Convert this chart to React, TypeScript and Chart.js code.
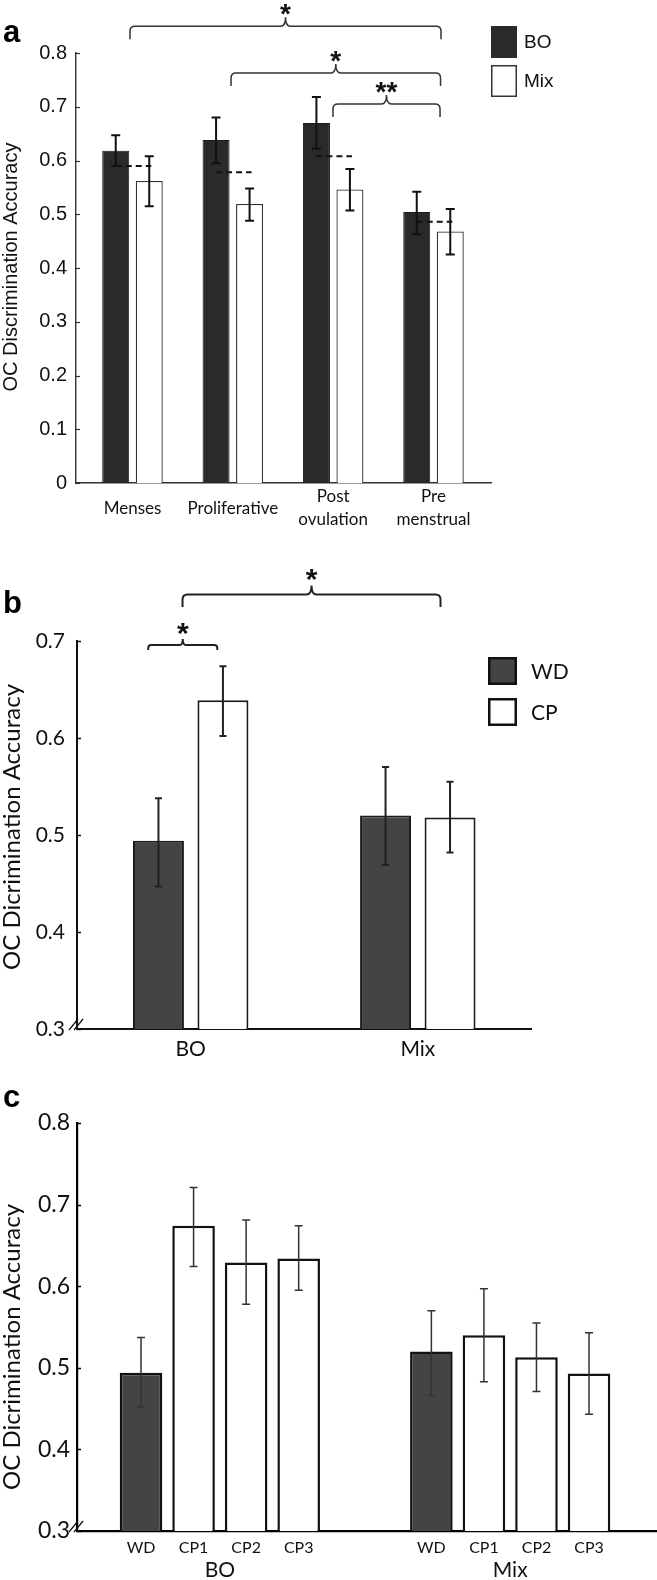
import React, { useEffect, useRef } from "react";
import { Chart, registerables } from "chart.js";

Chart.register(...registerables);

const ARIAL = "'Liberation Sans', Arial, sans-serif";
const HUMAN = "Lato, 'Open Sans', sans-serif";

// ---------------- Panel a data ----------------
const A_CATEGORIES: (string | string[])[] = ["Menses", "Proliferative", ["Post", "ovulation"], ["Pre", "menstrual"]];
const A_X = [0, 1, 2, 3];
const A_SERIES = ["BO", "Mix"];
const A_BO = [0.618, 0.638, 0.67, 0.504];
const A_BO_LOW = [0.59, 0.595, 0.622, 0.463];
const A_BO_HIGH = [0.647, 0.68, 0.718, 0.542];
const A_MIX = [0.562, 0.519, 0.546, 0.468];
const A_MIX_LOW = [0.515, 0.488, 0.507, 0.425];
const A_MIX_HIGH = [0.608, 0.548, 0.584, 0.51];
const A_MEAN = [0.59, 0.578, 0.608, 0.486];
const A_Y_TICKS = [0, 0.1, 0.2, 0.3, 0.4, 0.5, 0.6, 0.7, 0.8];
const A_SIG_LABELS = ["*", "*", "**"];
const A_Y_TITLE = "OC Discrimination Accuracy";

// ---------------- Panel b data ----------------
const B_CATEGORIES = ["BO", "Mix"];
const B_X = [0, 1];
const B_SERIES = ["WD", "CP"];
const B_WD = [0.494, 0.52];
const B_WD_LOW = [0.447, 0.469];
const B_WD_HIGH = [0.538, 0.57];
const B_CP = [0.639, 0.518];
const B_CP_LOW = [0.602, 0.482];
const B_CP_HIGH = [0.674, 0.555];
const B_Y_TICKS = [0.3, 0.4, 0.5, 0.6, 0.7];
const B_SIG_LABELS = ["*", "*"];
const BC_Y_TITLE = "OC Dicrimination Accuracy";

// ---------------- Panel c data ----------------
const C_CATEGORIES = ["BO", "Mix"];
const C_X = [0, 1];
const C_SERIES = ["WD", "CP1", "CP2", "CP3"];
const C_WD = [0.494, 0.52];
const C_WD_LOW = [0.452, 0.466];
const C_WD_HIGH = [0.537, 0.57];
const C_CP1 = [0.674, 0.54];
const C_CP1_LOW = [0.624, 0.483];
const C_CP1_HIGH = [0.721, 0.597];
const C_CP2 = [0.629, 0.513];
const C_CP2_LOW = [0.578, 0.471];
const C_CP2_HIGH = [0.681, 0.555];
const C_CP3 = [0.634, 0.493];
const C_CP3_LOW = [0.595, 0.443];
const C_CP3_HIGH = [0.674, 0.543];
const C_Y_TICKS = [0.3, 0.4, 0.5, 0.6, 0.7, 0.8];

// ---------------- helpers ----------------
const pts = (xs: number[], ys: number[]) => ys.map((y, i) => ({ x: xs[i], y }));

function drawErrorBars(chart: any, color: string, lw: number, cap: number) {
  const ctx = chart.ctx;
  const ys = chart.scales.y;
  ctx.save();
  ctx.strokeStyle = color;
  ctx.lineWidth = lw;
  chart.data.datasets.forEach((ds: any, di: number) => {
    const meta = chart.getDatasetMeta(di);
    meta.data.forEach((el: any, i: number) => {
      const x = el.x;
      const y1 = ys.getPixelForValue(ds.errLow[i]);
      const y2 = ys.getPixelForValue(ds.errHigh[i]);
      ctx.beginPath();
      ctx.moveTo(x, y1);
      ctx.lineTo(x, y2);
      ctx.moveTo(x - cap, y1);
      ctx.lineTo(x + cap, y1);
      ctx.moveTo(x - cap, y2);
      ctx.lineTo(x + cap, y2);
      ctx.stroke();
    });
  });
  ctx.restore();
}

function drawYTicks(chart: any, len: number, color: string, lw: number) {
  const ctx = chart.ctx;
  const ys = chart.scales.y;
  const left = chart.chartArea.left;
  ctx.save();
  ctx.strokeStyle = color;
  ctx.lineWidth = lw;
  ys.ticks.forEach((_t: any, i: number) => {
    const py = Math.round(ys.getPixelForTick(i)) + 0.5;
    ctx.beginPath();
    ctx.moveTo(left, py);
    ctx.lineTo(left + len, py);
    ctx.stroke();
  });
  ctx.restore();
}

function drawYTitle(chart: any, text: string, font: string, x: number, y: number) {
  const ctx = chart.ctx;
  ctx.save();
  ctx.translate(x, y);
  ctx.rotate(-Math.PI / 2);
  ctx.font = font;
  ctx.fillStyle = "#111";
  ctx.textAlign = "center";
  ctx.textBaseline = "middle";
  ctx.fillText(text, 0, 0);
  ctx.restore();
}

function drawBrace(
  chart: any,
  x1v: number,
  x2v: number,
  levelV: number,
  label: string,
  g: { drop: number; cusp: number; r: number; lw: number; color: string; font: string; gap: number }
) {
  const ctx = chart.ctx;
  const x1 = chart.scales.x.getPixelForValue(x1v);
  const x2 = chart.scales.x.getPixelForValue(x2v);
  const y = chart.scales.y.getPixelForValue(levelV);
  const xm = (x1 + x2) / 2;
  const { drop, cusp, r } = g;
  ctx.save();
  ctx.strokeStyle = g.color;
  ctx.lineWidth = g.lw;
  ctx.beginPath();
  ctx.moveTo(x1, y + drop);
  ctx.lineTo(x1, y + r);
  ctx.quadraticCurveTo(x1, y, x1 + r, y);
  ctx.lineTo(xm - r, y);
  ctx.quadraticCurveTo(xm, y, xm, y - cusp);
  ctx.quadraticCurveTo(xm, y, xm + r, y);
  ctx.lineTo(x2 - r, y);
  ctx.quadraticCurveTo(x2, y, x2, y + r);
  ctx.lineTo(x2, y + drop);
  ctx.stroke();
  ctx.font = g.font;
  ctx.fillStyle = "#111";
  ctx.textAlign = "center";
  ctx.textBaseline = "alphabetic";
  const m = ctx.measureText(label);
  const bottom = y - cusp - g.gap;
  ctx.fillText(label, xm, bottom - m.actualBoundingBoxDescent);
  ctx.restore();
}

function drawLegend(
  chart: any,
  items: { label: string; fill: string; stroke: string; lw: number; x: number; y: number }[],
  boxW: number,
  boxH: number,
  textX: number,
  font: string
) {
  const ctx = chart.ctx;
  ctx.save();
  items.forEach((it) => {
    ctx.fillStyle = it.fill;
    ctx.fillRect(it.x, it.y, boxW, boxH);
    ctx.strokeStyle = it.stroke;
    ctx.lineWidth = it.lw;
    ctx.strokeRect(it.x + it.lw / 2, it.y + it.lw / 2, boxW - it.lw, boxH - it.lw);
    ctx.fillStyle = "#111";
    ctx.font = font;
    ctx.textAlign = "left";
    ctx.textBaseline = "middle";
    ctx.fillText(it.label, textX, it.y + boxH / 2 + 1);
  });
  ctx.restore();
}

function drawLetter(chart: any, letter: string, x: number, baseline: number) {
  const ctx = chart.ctx;
  ctx.save();
  ctx.font = `bold 31px ${ARIAL}`;
  ctx.fillStyle = "#000";
  ctx.textAlign = "left";
  ctx.textBaseline = "alphabetic";
  ctx.fillText(letter, x, baseline);
  ctx.restore();
}

function drawBreak(chart: any, color: string) {
  const ctx = chart.ctx;
  const { left, bottom } = chart.chartArea;
  ctx.save();
  ctx.strokeStyle = color;
  ctx.lineWidth = 1.2;
  [0, 5].forEach((k) => {
    ctx.beginPath();
    ctx.moveTo(left - 8 + k, bottom + 1);
    ctx.lineTo(left + 1 + k, bottom - 10);
    ctx.stroke();
  });
  ctx.restore();
}

type PanelCfg = {
  width: number;
  height: number;
  area: { left: number; right: number; top: number; bottom: number };
  xMin: number;
  xMax: number;
  xPositions: number[];
  xLabels: (string | string[])[];
  xFont: any;
  xPadding: number;
  crossAlign: "near" | "center";
  yMin: number;
  yMax: number;
  yTicks: number[];
  yFont: any;
  yPadding: number;
  axisColor: string;
  axisWidth: number;
  datasets: any[];
  extra: (chart: any) => void;
};

function buildConfig(cfg: PanelCfg): any {
  return {
    type: "bar",
    data: { datasets: cfg.datasets },
    options: {
      responsive: false,
      maintainAspectRatio: false,
      animation: false,
      layout: { padding: { left: 0, top: cfg.area.top, right: cfg.width - cfg.area.right, bottom: 0 } },
      plugins: { legend: { display: false }, tooltip: { enabled: false } },
      scales: {
        x: {
          type: "linear",
          min: cfg.xMin,
          max: cfg.xMax,
          offset: false,
          grid: { display: false, drawTicks: false },
          border: { display: true, color: cfg.axisColor, width: cfg.axisWidth },
          afterBuildTicks: (axis: any) => {
            axis.ticks = cfg.xPositions.map((v) => ({ value: v }));
          },
          ticks: {
            autoSkip: false,
            maxRotation: 0,
            minRotation: 0,
            crossAlign: cfg.crossAlign,
            padding: cfg.xPadding,
            font: cfg.xFont,
            color: "#111",
            callback: (_v: any, i: number) => cfg.xLabels[i],
          },
          afterFit: (s: any) => {
            s.height = cfg.height - cfg.area.bottom;
          },
        },
        y: {
          type: "linear",
          min: cfg.yMin,
          max: cfg.yMax,
          grid: { display: false, drawTicks: false },
          border: { display: true, color: cfg.axisColor, width: cfg.axisWidth },
          afterBuildTicks: (axis: any) => {
            axis.ticks = cfg.yTicks.map((v) => ({ value: v }));
          },
          ticks: {
            font: cfg.yFont,
            color: "#111",
            padding: cfg.yPadding,
            callback: (v: any) => String(v),
          },
          title: { display: false },
          afterFit: (s: any) => {
            s.width = cfg.area.left;
          },
        },
      },
    },
    plugins: [{ id: "extras", afterDraw: (chart: any) => cfg.extra(chart) }],
  };
}

// ---------------- panel configs ----------------
const PANEL_A: PanelCfg = {
  width: 657,
  height: 540,
  area: { left: 76, right: 491, top: 53, bottom: 483 },
  xMin: -0.563,
  xMax: 3.573,
  xPositions: A_X,
  xLabels: A_CATEGORIES,
  xFont: { family: HUMAN, size: 17, lineHeight: 1.3 },
  xPadding: 14,
  crossAlign: "center",
  yMin: 0,
  yMax: 0.8,
  yTicks: A_Y_TICKS,
  yFont: { family: ARIAL, size: 20 },
  yPadding: 9,
  axisColor: "#333",
  axisWidth: 1.4,
  datasets: [
    {
      label: A_SERIES[0],
      data: pts(A_X, A_BO),
      errLow: A_BO_LOW,
      errHigh: A_BO_HIGH,
      backgroundColor: "#2a2a2a",
      borderColor: "#1a1a1a",
      borderWidth: 1,
      categoryPercentage: 0.668,
      barPercentage: 0.806,
    },
    {
      label: A_SERIES[1],
      data: pts(A_X, A_MIX),
      errLow: A_MIX_LOW,
      errHigh: A_MIX_HIGH,
      backgroundColor: "#ffffff",
      borderColor: "#333",
      borderWidth: 1.3,
      categoryPercentage: 0.668,
      barPercentage: 0.806,
    },
  ],
  extra: (chart: any) => {
    const ctx = chart.ctx;
    drawYTicks(chart, 4, "#333", 1.2);
    drawYTitle(chart, A_Y_TITLE, `20px ${ARIAL}`, 11, 267);
    // mean dashed lines
    const m0 = chart.getDatasetMeta(0).data;
    const m1 = chart.getDatasetMeta(1).data;
    ctx.save();
    ctx.strokeStyle = "#111";
    ctx.lineWidth = 2;
    ctx.setLineDash([6, 4]);
    A_MEAN.forEach((v, i) => {
      const py = chart.scales.y.getPixelForValue(v);
      ctx.beginPath();
      ctx.moveTo(m0[i].x, py);
      ctx.lineTo(m1[i].x + 2, py);
      ctx.stroke();
    });
    ctx.restore();
    drawErrorBars(chart, "#111", 2, 4.5);
    const g = { drop: 13, cusp: 9, r: 5, lw: 1.5, color: "#333", font: `bold 28px ${ARIAL}`, gap: 2 };
    const braces = [
      { x1: -0.025, x2: 3.075, level: 0.85 },
      { x1: 0.982, x2: 3.07, level: 0.763 },
      { x1: 1.998, x2: 3.065, level: 0.705 },
    ];
    braces.forEach((b, i) => drawBrace(chart, b.x1, b.x2, b.level, A_SIG_LABELS[i], g));
    drawLegend(
      chart,
      [
        { label: A_SERIES[0], fill: "#2a2a2a", stroke: "#2a2a2a", lw: 1, x: 491, y: 26 },
        { label: A_SERIES[1], fill: "#ffffff", stroke: "#333", lw: 1.5, x: 491, y: 65 },
      ],
      26,
      32,
      524,
      `19px ${ARIAL}`
    );
    drawLetter(chart, "a", 3, 42);
  },
};

const PANEL_B: PanelCfg = {
  width: 657,
  height: 520,
  area: { left: 77, right: 531, top: 101, bottom: 489 },
  xMin: -0.5007,
  xMax: 1.4985,
  xPositions: B_X,
  xLabels: B_CATEGORIES,
  xFont: { family: HUMAN, size: 21, lineHeight: 1.2 },
  xPadding: 8,
  crossAlign: "near",
  yMin: 0.3,
  yMax: 0.7,
  yTicks: B_Y_TICKS,
  yFont: { family: HUMAN, size: 21 },
  yPadding: 12,
  axisColor: "#111",
  axisWidth: 2,
  datasets: [
    {
      label: B_SERIES[0],
      data: pts(B_X, B_WD),
      errLow: B_WD_LOW,
      errHigh: B_WD_HIGH,
      backgroundColor: "#444444",
      borderColor: "#1a1a1a",
      borderWidth: 2,
      categoryPercentage: 0.568,
      barPercentage: 0.79,
    },
    {
      label: B_SERIES[1],
      data: pts(B_X, B_CP),
      errLow: B_CP_LOW,
      errHigh: B_CP_HIGH,
      backgroundColor: "#ffffff",
      borderColor: "#1a1a1a",
      borderWidth: 2,
      categoryPercentage: 0.568,
      barPercentage: 0.79,
    },
  ],
  extra: (chart: any) => {
    drawYTicks(chart, 4, "#111", 1.5);
    drawYTitle(chart, BC_Y_TITLE, `24px ${HUMAN}`, 12, 287);
    drawErrorBars(chart, "#222", 2, 3.5);
    const gBig = { drop: 12.5, cusp: 9, r: 5, lw: 2, color: "#222", font: `bold 30px ${ARIAL}`, gap: 4 };
    const gSmall = { drop: 5, cusp: 6, r: 3, lw: 2, color: "#222", font: `bold 30px ${ARIAL}`, gap: 4 };
    drawBrace(chart, -0.036, 1.1, 0.748, B_SIG_LABELS[0], gBig);
    drawBrace(chart, -0.187, 0.117, 0.696, B_SIG_LABELS[1], gSmall);
    drawLegend(
      chart,
      [
        { label: B_SERIES[0], fill: "#444444", stroke: "#111", lw: 2.5, x: 488, y: 117 },
        { label: B_SERIES[1], fill: "#ffffff", stroke: "#111", lw: 2.5, x: 488, y: 158 },
      ],
      29,
      28,
      531,
      `21px ${HUMAN}`
    );
    drawBreak(chart, "#111");
    drawLetter(chart, "b", 3, 73);
  },
};

const PANEL_C: PanelCfg = {
  width: 657,
  height: 520,
  area: { left: 77, right: 657, top: 63, bottom: 471 },
  xMin: -0.492,
  xMax: 1.5056,
  xPositions: C_X,
  xLabels: C_CATEGORIES,
  xFont: { family: HUMAN, size: 21, lineHeight: 1.2 },
  xPadding: 27,
  crossAlign: "near",
  yMin: 0.3,
  yMax: 0.8,
  yTicks: C_Y_TICKS,
  yFont: { family: HUMAN, size: 23 },
  yPadding: 7,
  axisColor: "#000",
  axisWidth: 2.2,
  datasets: [
    [C_SERIES[0], C_WD, C_WD_LOW, C_WD_HIGH, "#444444"],
    [C_SERIES[1], C_CP1, C_CP1_LOW, C_CP1_HIGH, "#ffffff"],
    [C_SERIES[2], C_CP2, C_CP2_LOW, C_CP2_HIGH, "#ffffff"],
    [C_SERIES[3], C_CP3, C_CP3_LOW, C_CP3_HIGH, "#ffffff"],
  ].map(([label, vals, lo, hi, fill]: any) => ({
    label,
    data: pts(C_X, vals),
    errLow: lo,
    errHigh: hi,
    backgroundColor: fill,
    borderColor: "#111",
    borderWidth: 2.5,
    categoryPercentage: 0.724,
    barPercentage: 0.81,
  })),
  extra: (chart: any) => {
    const ctx = chart.ctx;
    drawYTicks(chart, 4, "#000", 1.5);
    drawYTitle(chart, BC_Y_TITLE, `24px ${HUMAN}`, 12, 287);
    drawErrorBars(chart, "#333", 1.5, 4);
    // sub-labels under each bar (dataset labels)
    ctx.save();
    ctx.font = `16px ${HUMAN}`;
    ctx.fillStyle = "#111";
    ctx.textAlign = "center";
    ctx.textBaseline = "middle";
    chart.data.datasets.forEach((ds: any, di: number) => {
      chart.getDatasetMeta(di).data.forEach((el: any) => {
        ctx.fillText(ds.label, el.x, 488);
      });
    });
    ctx.restore();
    drawBreak(chart, "#111");
    drawLetter(chart, "c", 3, 47);
  },
};

function Panel({ cfg, top }: { cfg: PanelCfg; top: number }) {
  const ref = useRef<HTMLCanvasElement>(null);
  useEffect(() => {
    const chart = new Chart(ref.current as HTMLCanvasElement, buildConfig(cfg));
    return () => chart.destroy();
  }, [cfg]);
  return (
    <canvas
      ref={ref}
      width={cfg.width}
      height={cfg.height}
      style={{ position: "absolute", left: 0, top, width: cfg.width, height: cfg.height, display: "block" }}
    />
  );
}

export default function App() {
  return (
    <div style={{ position: "absolute", left: 0, top: 0, width: 657, height: 1580, background: "#fff", overflow: "hidden" }}>
      <Panel cfg={PANEL_A} top={0} />
      <Panel cfg={PANEL_B} top={540} />
      <Panel cfg={PANEL_C} top={1060} />
    </div>
  );
}
